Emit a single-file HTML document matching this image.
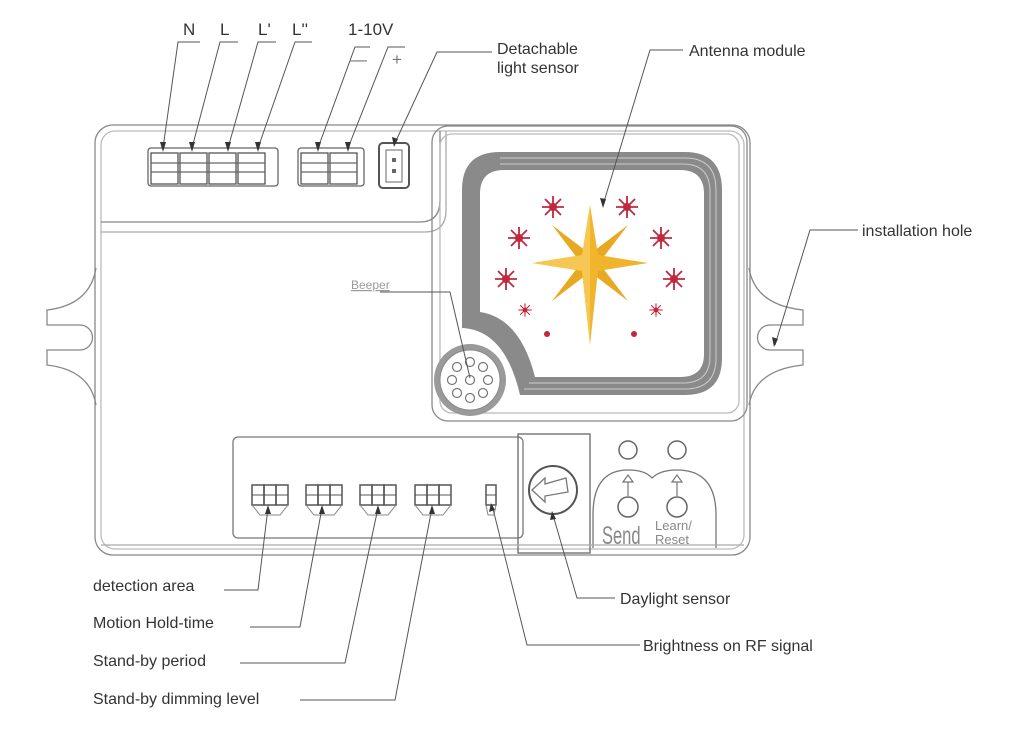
<!DOCTYPE html>
<html><head><meta charset="utf-8"><style>
html,body{margin:0;padding:0;background:#fff;}
svg{display:block;}
text{font-family:"Liberation Sans",sans-serif;fill:#333;}
</style></head><body>
<svg width="1024" height="729" viewBox="0 0 1024 729" xmlns="http://www.w3.org/2000/svg">
<defs>
<g id="rs"><g stroke="#c0283c" stroke-width="1.8"><line x1="-11" y1="0" x2="11" y2="0"/><line x1="0" y1="-11" x2="0" y2="11"/><line x1="-8" y1="-8" x2="8" y2="8"/><line x1="-8" y1="8" x2="8" y2="-8"/></g><circle r="4" fill="#c0283c"/></g>
</defs>
<g fill="none" stroke="#888" stroke-width="1.3">
<rect x="95" y="125" width="655" height="430" rx="18"/>
<rect x="101" y="131" width="643" height="418" rx="14" stroke="#bbb"/>
<path d="M101 222 L420 222 Q440 222 440 200 L440 131"/>
<path d="M101 232 L425 232 Q446 232 446 210 L446 131" stroke="#aaa"/>
<rect x="432" y="126" width="315" height="295" rx="16"/>
<rect x="440" y="134" width="299" height="279" rx="12" stroke="#bbb"/>
<path d="M96 268 Q90 305 47 310 L47 325 L80 325 A12.5 12.5 0 0 1 80 350 L47 350 L47 365 Q90 370 96 405"/>
<path d="M749 268 Q755 305 803 310 L803 325 L770 325 A12.5 12.5 0 0 0 770 350 L803 350 L803 365 Q755 370 749 405"/>
<rect x="148" y="148" width="130" height="38" rx="3" stroke="#666"/>
<rect x="298" y="148" width="66" height="38" rx="3" stroke="#666"/>
</g>
<g fill="#fff" stroke="#555" stroke-width="1.3">
<rect x="151" y="153" width="27" height="31"/><rect x="180" y="153" width="27" height="31"/><rect x="209" y="153" width="27" height="31"/><rect x="238" y="153" width="27" height="31"/>
<rect x="301" y="153" width="27" height="31"/><rect x="330" y="153" width="27" height="31"/>
</g>
<g stroke="#666" stroke-width="1.2">
<line x1="151" y1="163" x2="265" y2="163"/><line x1="151" y1="172" x2="265" y2="172"/>
<line x1="301" y1="163" x2="357" y2="163"/><line x1="301" y1="172" x2="357" y2="172"/>
</g>
<rect x="379" y="143" width="30" height="45" rx="4" fill="none" stroke="#555" stroke-width="2"/>
<rect x="386" y="150" width="16" height="32" fill="none" stroke="#666"/>
<rect x="392" y="158" width="4" height="4" fill="#666"/><rect x="392" y="169" width="4" height="4" fill="#666"/>
<path d="M500 152 L685 152 Q722 152 722 190 L722 358 Q722 395 685 395 L520 395 Q505 330 462 328 L462 190 Q462 152 500 152 Z" fill="#8a8a8a"/>
<path d="M504 170 L680 170 Q704 170 704 194 L704 354 Q704 377 680 377 L535 377 Q520 318 480 312 L480 194 Q480 170 504 170 Z" fill="#fff"/>
<g fill="none" stroke="#ccc" stroke-width="1">
<path d="M500 158 L685 158 Q716 158 716 190 L716 358 Q716 389 685 389 L524 389"/>
<path d="M500 164 L683 164 Q710 164 710 192 L710 356 Q710 383 683 383 L529 383"/>
</g>
<circle cx="470" cy="380" r="36" fill="#9a9a9a"/>
<circle cx="470" cy="380" r="30" fill="#fff" stroke="#888"/>
<g fill="none" stroke="#777" stroke-width="1.2">
<circle cx="470" cy="380" r="4.5"/><circle cx="470" cy="362" r="4.5"/><circle cx="470" cy="398" r="4.5"/><circle cx="452" cy="380" r="4.5"/><circle cx="488" cy="380" r="4.5"/><circle cx="457" cy="367" r="4.5"/><circle cx="483" cy="367" r="4.5"/><circle cx="457" cy="393" r="4.5"/><circle cx="483" cy="393" r="4.5"/>
</g>
<g transform="translate(590,263)">
<polygon points="-38,-38 0,-9 38,-38 9,0 38,38 0,9 -38,38 -9,0" fill="#e8a820"/>
<polygon points="0,-58 8,-8 58,0 8,8 0,82 -8,8 -58,0 -8,-8" fill="#f0b52c"/>
<polygon points="0,-58 0,82 -8,8 -58,0 -8,-8" fill="#f7cc5c" opacity="0.8"/>
</g>
<use href="#rs" x="553" y="207"/><use href="#rs" x="627" y="207"/>
<use href="#rs" x="519" y="238"/><use href="#rs" x="661" y="238"/>
<use href="#rs" x="506" y="279"/><use href="#rs" x="674" y="279"/>
<g transform="translate(525,310) scale(0.6)"><use href="#rs"/></g><g transform="translate(656,310) scale(0.6)"><use href="#rs"/></g>
<circle cx="547" cy="334" r="3" fill="#c0283c"/><circle cx="634" cy="334" r="3" fill="#c0283c"/>
<g fill="none" stroke="#777" stroke-width="1.3">
<rect x="233" y="437" width="290" height="101" rx="5"/>
<rect x="518" y="434" width="72" height="119" stroke="#666"/>
<circle cx="553" cy="490" r="24" stroke="#555" stroke-width="2"/>
<path d="M532 490 L545 478 L545 484 L566 478 L568 492 L545 496 L545 502 Z" stroke="#777"/>
<path d="M593 548 L593 515 Q593 470 628 470 Q645 470 652 478 Q660 470 677 470 Q716 470 716 515 L716 548"/>
<line x1="101" y1="545" x2="744" y2="545" stroke="#aaa"/>
</g>
<g fill="none" stroke="#555" stroke-width="1.5">
<rect x="252" y="485" width="12" height="20"/><rect x="264" y="485" width="12" height="20"/><rect x="276" y="485" width="12" height="20"/>
<rect x="306" y="485" width="12" height="20"/><rect x="318" y="485" width="12" height="20"/><rect x="330" y="485" width="12" height="20"/>
<rect x="360" y="485" width="12" height="20"/><rect x="372" y="485" width="12" height="20"/><rect x="384" y="485" width="12" height="20"/>
<rect x="415" y="485" width="12" height="20"/><rect x="427" y="485" width="12" height="20"/><rect x="439" y="485" width="12" height="20"/>
<rect x="486" y="485" width="10" height="20"/>
<path d="M252 505 L260 515 L280 515 L288 505 M306 505 L314 515 L334 515 L342 505 M360 505 L368 515 L388 515 L396 505 M415 505 L423 515 L443 515 L451 505 M486 505 L488 515 L494 515 L496 505" stroke="#888" stroke-width="1"/>
<line x1="252" y1="495" x2="288" y2="495" stroke-width="1"/><line x1="306" y1="495" x2="342" y2="495" stroke-width="1"/><line x1="360" y1="495" x2="396" y2="495" stroke-width="1"/><line x1="415" y1="495" x2="451" y2="495" stroke-width="1"/><line x1="486" y1="495" x2="496" y2="495" stroke-width="1"/>
<circle cx="628" cy="450" r="9" stroke="#666"/><circle cx="677" cy="450" r="9" stroke="#666"/>
<circle cx="628" cy="507" r="10" stroke="#666"/><circle cx="677" cy="507" r="10" stroke="#666"/>
<path d="M628 496 L628 482 M623 482 L628 475 L633 482 Z M677 496 L677 482 M672 482 L677 475 L682 482 Z" stroke="#777" stroke-width="1.2"/>
</g>
<text x="602" y="544" font-size="22" style="fill:#888" transform="translate(602,544) scale(0.75,1.15) translate(-602,-544)">Send</text>
<text x="655" y="530" font-size="13" style="fill:#888">Learn/</text>
<text x="655" y="544" font-size="13" style="fill:#888">Reset</text>
<text x="351" y="289" font-size="12" style="fill:#999;text-decoration:underline">Beeper</text>
<g fill="none" stroke="#555" stroke-width="1">
<path d="M200 42 L178 42 L163 148"/><path d="M238 42 L220 42 L192 148"/><path d="M276 42 L258 42 L228 148"/><path d="M312 42 L295 42 L258 148"/>
<path d="M370 47 L355 47 L318 148"/><path d="M405 47 L388 47 L348 148"/>
<path d="M492 52 L437 52 L395 143"/>
<path d="M683 50 L650 50 L603 205"/>
<path d="M858 230 L810 230 L775 345"/>
<path d="M380 292 L450 292 L470 378"/>
<path d="M224 590 L258 590 L268 508"/><path d="M250 627 L300 627 L322 508"/><path d="M240 663 L345 663 L378 508"/><path d="M300 700 L395 700 L432 508"/>
<path d="M615 598 L577 598 L553 515"/><path d="M640 645 L527 645 L492 505"/>
</g>
<g fill="#333">
<polygon points="160,142 166,142 163,152"/><polygon points="189,142 195,142 192,152"/><polygon points="225,142 231,142 228,152"/><polygon points="255,142 261,142 258,152"/>
<polygon points="315,142 321,142 318,152"/><polygon points="345,142 351,142 348,152"/><polygon points="392,137 398,139 394,147"/>
<polygon points="600,198 606,199 603,208"/><polygon points="772,337 778,339 774,347"/>
<polygon points="265,514 271,514 268,505"/><polygon points="319,514 325,514 322,505"/><polygon points="375,514 381,514 378,505"/><polygon points="429,514 435,514 432,505"/><polygon points="489,512 495,510 491,503"/><polygon points="550,520 556,519 552,511"/>
</g>
<g font-size="17">
<text x="183" y="35">N</text><text x="220" y="35">L</text><text x="258" y="35">L'</text><text x="292" y="35">L''</text>
<text x="348" y="35">1-10V</text>
<text x="350" y="65" style="fill:#777">—</text><text x="392" y="65" style="fill:#777">+</text>
</g>
<g font-size="16">
<text x="497" y="54">Detachable</text><text x="497" y="73">light sensor</text>
<text x="689" y="56">Antenna module</text>
<text x="862" y="236">installation hole</text>
<text x="93" y="591">detection area</text>
<text x="93" y="628">Motion Hold-time</text>
<text x="93" y="666">Stand-by period</text>
<text x="93" y="704">Stand-by dimming level</text>
<text x="620" y="604">Daylight sensor</text>
<text x="643" y="651">Brightness on RF signal</text>
</g>
</svg>
</body></html>
